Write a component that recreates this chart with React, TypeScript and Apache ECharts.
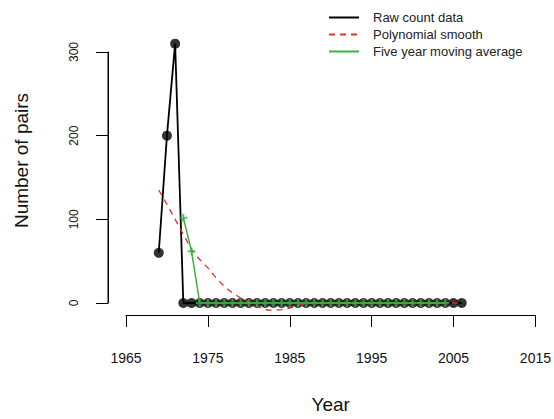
import React, { useEffect, useRef } from "react";
import * as echarts from "echarts";

const years = [
  1969, 1970, 1971, 1972, 1973, 1974, 1975, 1976, 1977, 1978,
  1979, 1980, 1981, 1982, 1983, 1984, 1985, 1986, 1987, 1988,
  1989, 1990, 1991, 1992, 1993, 1994, 1995, 1996, 1997, 1998,
  1999, 2000, 2001, 2002, 2003, 2004, 2005, 2006,
];

const rawCounts = [
  60, 200, 310, 0, 0, 0, 0, 0, 0, 0,
  0, 0, 0, 0, 0, 0, 0, 0, 0, 0,
  0, 0, 0, 0, 0, 0, 0, 0, 0, 0,
  0, 0, 0, 0, 0, 0, 0, 0,
];

const polySmooth = [
  135, 118, 100, 82, 64, 52, 42, 30, 20, 12,
  6, 1, -4, -8, -9, -8, -6, -3, -1, 0,
  0, 0, 0, 0, 0, 0, 0, 0, 0, 0,
  0, 0, 0, 0, 0, 0, 0, 0,
];

const movingAvg: (number | null)[] = [
  null, null, null, 102, 62, 0, 0, 0, 0, 0,
  0, 0, 0, 0, 0, 0, 0, 0, 0, 0,
  0, 0, 0, 0, 0, 0, 0, 0, 0, 0,
  0, 0, 0, 0, 0, 0, null, null,
];

const xTicks = [1965, 2015];
const yTicks = [0, 300];

const FONT = "Liberation Sans, Arial, sans-serif";
const RED = "#e03030";
const GREEN = "#3cb043";
const Y_OFFSET = 18;
const GRID = { left: 126, right: 17, top: 52, bottom: 116 };

export default function App() {
  const ref = useRef<HTMLDivElement>(null);
  useEffect(() => {
    if (!ref.current) return;
    const chart = echarts.init(ref.current, undefined, { renderer: "svg" });
    const pairs = (vals: (number | null)[]) =>
      years.map((y, i) => [y, vals[i]]).filter((p) => p[1] !== null);
    chart.setOption({
      animation: false,
      backgroundColor: "#ffffff",
      legend: {
        orient: "vertical",
        left: 328,
        top: 11,
        padding: 0,
        itemWidth: 30,
        itemHeight: 14,
        itemGap: 4,
        itemStyle: { opacity: 0 },
        data: ["Raw count data", "Polynomial smooth", "Five year moving average"],
        textStyle: { fontSize: 13, color: "#222", fontFamily: FONT, padding: [0, 0, 0, 9] },
      },
      grid: GRID,
      xAxis: {
        type: "value",
        min: xTicks[0],
        max: xTicks[1],
        interval: 10,
        offset: 12,
        name: "Year",
        nameLocation: "middle",
        nameGap: 80,
        nameTextStyle: { fontSize: 19, color: "#111", fontFamily: FONT },
        axisLine: { show: true, onZero: false, lineStyle: { color: "#000", width: 1 } },
        axisTick: { show: true, length: 12, inside: false, lineStyle: { color: "#000" } },
        axisLabel: {
          margin: 36,
          fontSize: 14,
          color: "#111",
          fontFamily: FONT,
          formatter: (v: number) => String(v),
        },
        splitLine: { show: false },
      },
      yAxis: {
        type: "value",
        min: yTicks[0],
        max: yTicks[1],
        interval: 100,
        offset: Y_OFFSET,
        name: "Number of pairs",
        nameLocation: "middle",
        nameGap: 77,
        nameTextStyle: { fontSize: 19, color: "#111", fontFamily: FONT, padding: [0, 0, 0, 34] },
        axisLine: { show: true, onZero: false, lineStyle: { color: "#000", width: 1 } },
        axisTick: { show: true, length: 12, inside: false, lineStyle: { color: "#000" } },
        axisLabel: { rotate: 90, margin: 28, fontSize: 12, color: "#111", fontFamily: FONT },
        splitLine: { show: false },
      },
      series: [
        {
          name: "Raw count data",
          type: "line",
          data: pairs(rawCounts),
          showSymbol: false,
          symbol: "none",
          clip: false,
          lineStyle: { color: "#000", width: 1.8 },
          itemStyle: { color: "#000" },
          z: 2,
        },
        {
          name: "rawPoints",
          type: "scatter",
          data: pairs(rawCounts),
          symbol: "circle",
          symbolSize: 10,
          clip: false,
          itemStyle: { color: "#000" },
          z: 3,
        },
        {
          name: "Polynomial smooth",
          type: "line",
          data: pairs(polySmooth),
          showSymbol: false,
          symbol: "none",
          clip: false,
          lineStyle: { color: RED, width: 1.3, type: [6, 5] },
          itemStyle: { color: RED },
          z: 4,
        },
        {
          name: "Five year moving average",
          type: "line",
          data: pairs(movingAvg),
          showSymbol: false,
          symbol: "none",
          clip: false,
          lineStyle: { color: GREEN, width: 1.5 },
          itemStyle: { color: GREEN },
          z: 5,
        },
        {
          name: "maPoints",
          type: "scatter",
          data: pairs(movingAvg),
          symbol: "path://M3,0H5V3H8V5H5V8H3V5H0V3H3Z",
          symbolSize: 8,
          clip: false,
          itemStyle: { color: GREEN },
          z: 6,
        },
      ],
    });
    // y-axis line (R-style, spanning 0..300), placed from the library's own scale
    let pB: any = null;
    let pT: any = null;
    try {
      pB = chart.convertToPixel({ xAxisIndex: 0, yAxisIndex: 0 } as any, [xTicks[0], yTicks[0]]);
      pT = chart.convertToPixel({ xAxisIndex: 0, yAxisIndex: 0 } as any, [xTicks[0], yTicks[1]]);
    } catch (e) {
      pB = null;
    }
    const ok = Array.isArray(pB) && Array.isArray(pT) && isFinite(pB[0]) && isFinite(pB[1]) && isFinite(pT[1]);
    const lx = ok ? Math.round(pB[0]) - Y_OFFSET : GRID.left - Y_OFFSET;
    const yb = ok ? pB[1] : 419 - GRID.bottom;
    const yt = ok ? pT[1] : GRID.top;
    chart.setOption({
      graphic: {
        elements: [
          {
            id: "yAxisLine",
            type: "rect",
            left: lx - 0.5,
            top: yt,
            shape: { width: 1, height: yb - yt },
            style: { fill: "#000" },
            z: 100,
          },
        ],
      },
    });
    return () => chart.dispose();
  }, []);
  return (
    <div
      ref={ref}
      style={{ position: "absolute", left: 0, top: 0, width: 554, height: 419 }}
    />
  );
}
